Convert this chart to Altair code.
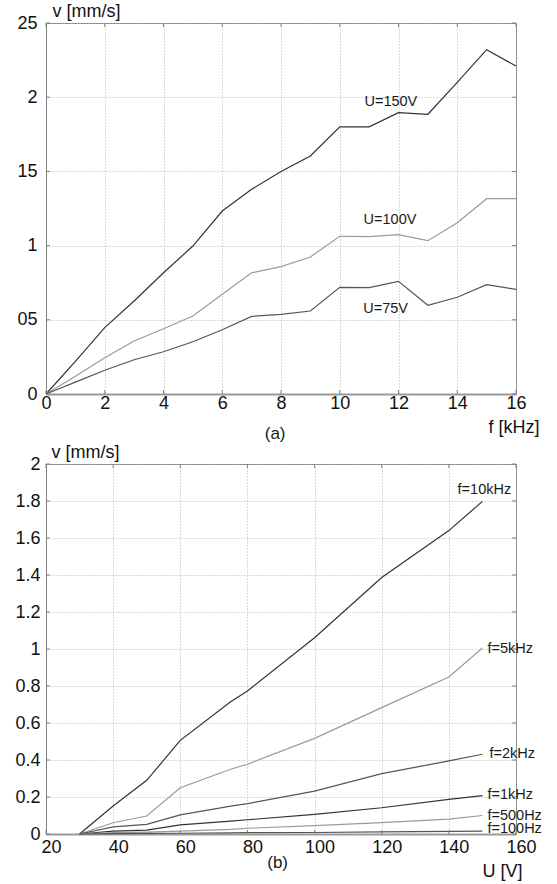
import altair as alt
import pandas as pd

FONT = "Liberation Sans"

# ---------- panel (a): speed vs. frequency ----------
f_khz = list(range(17))
v_u150 = [0, 0.22, 0.447, 0.627, 0.817, 0.997, 1.233, 1.379, 1.50, 1.604,
          1.80, 1.80, 1.896, 1.885, 2.10, 2.32, 2.21]
v_u100 = [0, 0.12, 0.245, 0.357, 0.44, 0.526, 0.672, 0.817, 0.858, 0.923,
          1.063, 1.06, 1.074, 1.033, 1.154, 1.316, 1.316]
v_u75 = [0, 0.08, 0.16, 0.231, 0.285, 0.352, 0.433, 0.523, 0.537, 0.559,
         0.719, 0.717, 0.759, 0.598, 0.652, 0.737, 0.705]

a_series = ["U=150V", "U=100V", "U=75V"]
a_colors = ["#333333", "#9a9a9a", "#555555"]
a_label_f = [11.74, 11.71, 11.56]
a_label_v = [1.967, 1.172, 0.575]

a_xticks = list(range(0, 17, 2))
a_yticks = [0, 0.5, 1, 1.5, 2, 2.5]

# ---------- panel (b): speed vs. voltage ----------
u_volt = [30, 40, 50, 60, 75, 80, 100, 120, 140, 150]
v_f10k = [0, 0.151, 0.29, 0.506, 0.715, 0.773, 1.061, 1.386, 1.64, 1.798]
v_f5k = [0, 0.061, 0.097, 0.25, 0.35, 0.377, 0.517, 0.683, 0.849, 1.005]
v_f2k = [0, 0.038, 0.052, 0.103, 0.151, 0.164, 0.232, 0.326, 0.395, 0.431]
v_f1k = [0, 0.016, 0.021, 0.049, 0.07, 0.077, 0.106, 0.142, 0.187, 0.207]
v_f500 = [0, 0.007, 0.01, 0.016, 0.025, 0.031, 0.045, 0.062, 0.08, 0.1]
v_f100 = [0, 0.002, 0.003, 0.004, 0.006, 0.007, 0.008, 0.011, 0.014, 0.016]

b_series = ["f=10kHz", "f=5kHz", "f=2kHz", "f=1kHz", "f=500Hz", "f=100Hz"]
b_colors = ["#333333", "#9a9a9a", "#555555", "#444444", "#aaaaaa", "#666666"]
b_label_u = [142.6, 151.5, 152.1, 151.5, 151.5, 151.5]
b_label_v = [1.86, 1.0, 0.435, 0.211, 0.1, 0.027]

b_xticks = list(range(20, 161, 20))
b_yticks = [round(0.2 * i, 1) for i in range(11)]

W = 470
HA = 371
HB = 370
FRAME = "#808080"

# long tables
a_rows = []
for name, vals in zip(a_series, [v_u150, v_u100, v_u75]):
    for f, v in zip(f_khz, vals):
        a_rows.append({"f": f, "v": v, "series": name})
a_df = pd.DataFrame(a_rows)
a_lab = pd.DataFrame({"f": a_label_f, "v": a_label_v, "text": a_series})

b_rows = []
for name, vals in zip(b_series, [v_f10k, v_f5k, v_f2k, v_f1k, v_f500, v_f100]):
    for u, v in zip(u_volt, vals):
        b_rows.append({"u": u, "v": v, "series": name})
b_df = pd.DataFrame(b_rows)
b_lab = pd.DataFrame({"u": b_label_u, "v": b_label_v, "text": b_series})


def panel(df, lab, xf, xdom, xticks, yticks, ydom, height, series, colors,
          xtitle, ytitle, ylabel_expr, tag, tag_x, lab_align, xlab_pad, xlab_off,
          ylab_pad, xtitle_x, xtitle_y, ytitle_x, tag_y):
    xs = alt.Scale(domain=xdom, nice=False, zero=False)
    ys = alt.Scale(domain=ydom, nice=False)
    x_axis = alt.Axis(values=xticks, title=xtitle, grid=True, ticks=False,
                      labelPadding=xlab_pad, labelOffset=xlab_off, labelFlush=False,
                      labelOverlap=False,
                      titleX=xtitle_x, titleY=xtitle_y, titleAlign="left",
                      titleBaseline="middle", domainWidth=2, domainColor="#999999")
    y_axis = alt.Axis(values=yticks, title=ytitle, grid=True, ticks=False,
                      labelPadding=ylab_pad, labelExpr=ylabel_expr, labelFlush=False,
                      labelOverlap=False,
                      titleAngle=0, titleX=ytitle_x, titleY=-3, titleAlign="left",
                      titleBaseline="bottom", domainColor=FRAME)

    def X(field):
        return alt.X(field, scale=xs, axis=x_axis)

    def Y(field):
        return alt.Y(field, scale=ys, axis=y_axis)

    lines = alt.Chart(df).mark_line(strokeWidth=1.2).encode(
        x=X(f"{xf}:Q"),
        y=Y("v:Q"),
        color=alt.Color("series:N", scale=alt.Scale(domain=series, range=colors),
                        legend=None),
        detail="series:N",
    )
    labels = alt.Chart(lab).mark_text(font=FONT, fontSize=14.5, align=lab_align,
                                      baseline="middle", color="#1a1a1a").encode(
        x=X(f"{xf}:Q"), y=Y("v:Q"), text="text:N"
    )
    # inward ticks on all four sides of the frame
    xt = pd.DataFrame({"t": xticks})
    yt = pd.DataFrame({"t": yticks})
    t_top = alt.Chart(xt).mark_rule(color=FRAME, strokeWidth=1).encode(
        x=X("t:Q"), y=alt.value(0), y2=alt.value(4))
    t_bot = alt.Chart(xt).mark_rule(color=FRAME, strokeWidth=1).encode(
        x=X("t:Q"), y=alt.value(height - 4), y2=alt.value(height))
    t_left = alt.Chart(yt).mark_rule(color=FRAME, strokeWidth=1).encode(
        y=Y("t:Q"), x=alt.value(0), x2=alt.value(4))
    t_right = alt.Chart(yt).mark_rule(color=FRAME, strokeWidth=1).encode(
        y=Y("t:Q"), x=alt.value(W - 4), x2=alt.value(W))
    tag_mark = alt.Chart(pd.DataFrame({"text": [tag]})).mark_text(
        font=FONT, fontSize=17, align="center", baseline="middle", color="#1a1a1a"
    ).encode(x=alt.datum(tag_x, scale=xs), y=alt.value(height + tag_y), text="text:N")

    return alt.layer(lines, labels, t_top, t_bot, t_left, t_right, tag_mark).properties(
        width=W, height=height
    )


top = panel(a_df, a_lab, "f", [0, 16], a_xticks, a_yticks, [0, 2.5], HA,
            a_series, a_colors, "f [kHz]", "v [mm/s]",
            "replace(format(datum.value, '~g'), '.', '')",
            "(a)", 7.8, "center", 0, 0, 9, 442, 33, 6, 40)
bottom = panel(b_df, b_lab, "u", [20, 160], b_xticks, b_yticks, [0, 2], HB,
               b_series, b_colors, "U [V]", "v [mm/s]",
               "format(datum.value, '~g')",
               "(b)", 89, "left", 4, 5, 6, 436, 37, 5, 29)

chart = alt.vconcat(top, bottom, spacing=-1).configure(
    padding={"left": 14, "top": 1, "right": 5, "bottom": 2},
    background="white",
).configure_view(
    stroke=FRAME, strokeWidth=1
).configure_axis(
    labelFont=FONT, labelFontSize=18, labelColor="#111111",
    titleFont=FONT, titleFontSize=18, titleFontWeight="normal", titleColor="#111111",
    gridColor="#b5b5b5", gridDash=[1, 2], gridWidth=1,
)

chart.save("out.html", embed_options={"renderer": "svg", "actions": False})
